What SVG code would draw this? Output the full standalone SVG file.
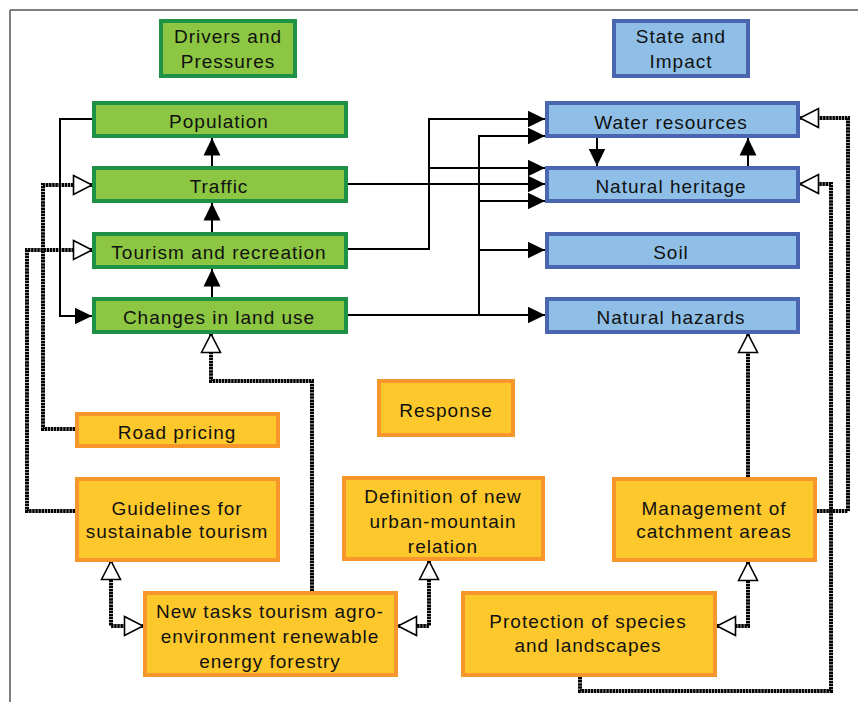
<svg xmlns="http://www.w3.org/2000/svg" width="858" height="702" viewBox="0 0 858 702">
<style>
  .g rect { fill: #8cc642; stroke: #1e9146; stroke-width: 4; }
  .b rect { fill: #8fbfe7; stroke: #4a66b0; stroke-width: 4; }
  .o rect { fill: #fdc82b; stroke: #f7962a; stroke-width: 4; }
  text { font-family: "Liberation Sans", Arial, sans-serif; font-size: 19px; letter-spacing: 1px; fill: #111; text-anchor: middle; }
  .solid path { fill: none; stroke: #000; stroke-width: 2; }
  .dot path { fill: none; stroke: #000; stroke-width: 4; stroke-dasharray: 2.5 0.6; }
</style>
<defs>
  <marker id="fa" markerUnits="userSpaceOnUse" markerWidth="18" markerHeight="18" viewBox="0 0 18 18" refX="17.5" refY="9" orient="auto">
    <path d="M0,0.5 L17.5,9 L0,17.5 Z" fill="#000"/>
  </marker>
  <marker id="ha" markerUnits="userSpaceOnUse" markerWidth="22" markerHeight="22" viewBox="0 0 22 22" refX="20" refY="11" orient="auto-start-reverse">
    <path d="M1.5,1.5 L20,11 L1.5,20.5 Z" fill="#fff" stroke="#000" stroke-width="1.6" stroke-linejoin="miter"/>
  </marker>
</defs>

<rect x="0" y="0" width="858" height="702" fill="#fff"/>
<path d="M10,10 H858 M10,10 V702" fill="none" stroke="#555" stroke-width="1.5"/>

<g id="connectors">
  <g class="solid">
    <path d="M212,166 V138" marker-end="url(#fa)"/>
    <path d="M212,232 V203" marker-end="url(#fa)"/>
    <path d="M212,297 V269" marker-end="url(#fa)"/>
    <path d="M92,119 H60 V316 H92" marker-end="url(#fa)"/>
    <path d="M348,184 H545" marker-end="url(#fa)"/>
    <path d="M348,249 H429 V119 H545" marker-end="url(#fa)"/>
    <path d="M429,168 H545" marker-end="url(#fa)"/>
    <path d="M348,315 H545" marker-end="url(#fa)"/>
    <path d="M479,315 V136 H545" marker-end="url(#fa)"/>
    <path d="M479,201 H545" marker-end="url(#fa)"/>
    <path d="M479,250 H545" marker-end="url(#fa)"/>
    <path d="M597,138 V166" marker-end="url(#fa)"/>
    <path d="M748,166 V138" marker-end="url(#fa)"/>
  </g>
  <g class="dot">
    <path d="M75,429 H43 V185 H92" marker-end="url(#ha)"/>
    <path d="M75,511 H27 V250 H92" marker-end="url(#ha)"/>
    <path d="M312,591 V381 H211 V334" marker-end="url(#ha)"/>
    <path d="M111,561 V626 H143" marker-start="url(#ha)" marker-end="url(#ha)"/>
    <path d="M429,561 V626 H398" marker-start="url(#ha)" marker-end="url(#ha)"/>
    <path d="M748,562 V626 H717" marker-start="url(#ha)" marker-end="url(#ha)"/>
    <path d="M748,477 V334" marker-end="url(#ha)"/>
    <path d="M817,511 H848 V118 H800" marker-end="url(#ha)"/>
    <path d="M580,677 V691 H831 V184 H800" marker-end="url(#ha)"/>
  </g>
</g>

<g id="drivers" class="g"><rect x="161" y="21" width="134" height="55"/><text x="228" y="43">Drivers and</text><text x="228" y="68">Pressures</text></g>
<g id="population" class="g"><rect x="94" y="103" width="252" height="33"/><text x="219" y="128">Population</text></g>
<g id="traffic" class="g"><rect x="94" y="168" width="252" height="33"/><text x="219" y="193">Traffic</text></g>
<g id="tourism" class="g"><rect x="94" y="234" width="252" height="33"/><text x="219" y="259">Tourism and recreation</text></g>
<g id="landuse" class="g"><rect x="94" y="299" width="252" height="33"/><text x="219" y="324">Changes in land use</text></g>

<g id="state" class="b"><rect x="614" y="21" width="134" height="55"/><text x="681" y="43">State and</text><text x="681" y="68">Impact</text></g>
<g id="water" class="b"><rect x="547" y="103" width="251" height="33"/><text x="671" y="129">Water resources</text></g>
<g id="heritage" class="b"><rect x="547" y="168" width="251" height="33"/><text x="671" y="193">Natural heritage</text></g>
<g id="soil" class="b"><rect x="547" y="234" width="251" height="33"/><text x="671" y="259">Soil</text></g>
<g id="hazards" class="b"><rect x="547" y="299" width="251" height="33"/><text x="671" y="324">Natural hazards</text></g>

<g id="response" class="o"><rect x="379" y="381" width="134" height="54"/><text x="446" y="417">Response</text></g>
<g id="roadpricing" class="o"><rect x="77" y="414" width="201" height="32"/><text x="177" y="439">Road pricing</text></g>
<g id="guidelines" class="o"><rect x="77" y="479" width="201" height="81"/><text x="177" y="515">Guidelines for</text><text x="177" y="538">sustainable tourism</text></g>
<g id="definition" class="o"><rect x="344" y="478" width="199" height="81"/><text x="443" y="503">Definition of new</text><text x="443" y="528">urban-mountain</text><text x="443" y="553">relation</text></g>
<g id="newtasks" class="o"><rect x="145" y="593" width="251" height="82"/><text x="270" y="618">New tasks tourism agro-</text><text x="270" y="643">environment renewable</text><text x="270" y="668">energy forestry</text></g>
<g id="management" class="o"><rect x="614" y="479" width="201" height="81"/><text x="714" y="515">Management of</text><text x="714" y="538">catchment areas</text></g>
<g id="protection" class="o"><rect x="463" y="593" width="252" height="82"/><text x="588" y="628">Protection of species</text><text x="588" y="652">and landscapes</text></g>
</svg>
